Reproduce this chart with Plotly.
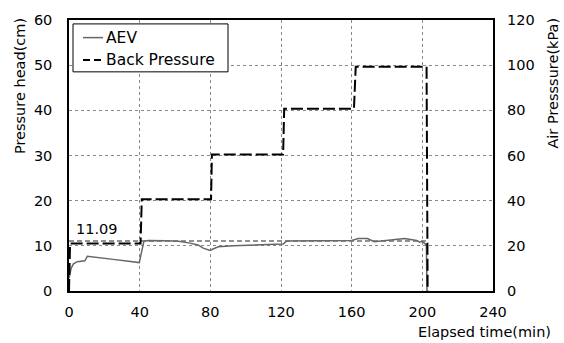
import plotly.graph_objects as go

# Elapsed time (min) and air-entry value readings (cm)
aev_time = [0, 1.2, 2.5, 4.7, 9.0, 10.4, 25, 39.8, 42.4, 45, 55, 62, 68.5, 73, 76, 79.8, 81.5, 84.5, 93,
            105, 119, 121.3, 123, 140, 160, 163.8, 168.9, 172.8, 180, 190, 196.8, 198.6, 200, 201.5, 202.3, 202.6]
aev_head = [2.8, 5.0, 6.0, 6.5, 6.7, 7.7, 7.0, 6.3, 11.05, 11.2, 11.1, 11.0, 10.6, 10.2, 9.5, 9.0, 9.3, 9.8, 10.0,
            10.2, 10.35, 10.4, 11.05, 11.1, 11.2, 11.6, 11.6, 10.9, 11.2, 11.6, 11.2, 10.8, 11.0, 10.4, 10.2, 0]

# Applied back pressure (kPa)
bp_time = [0, 0.6, 40.5, 41.2, 80.4, 80.9, 121.2, 121.8, 161.3, 162.3, 202.4, 203.0]
bp_kpa = [0, 21.0, 21.0, 40.6, 40.6, 60.4, 60.4, 80.7, 80.7, 99.3, 99.3, 0]

# Reference level for the air-entry value
aev_level = 11.09
level_span = [0, 202]

x_ticks = [0, 40, 80, 120, 160, 200, 240]
y_ticks = [0, 10, 20, 30, 40, 50, 60]
y2_ticks = [0, 20, 40, 60, 80, 100, 120]

font_main = "DejaVu Sans, Arial, sans-serif"
fs = 14.5

# Figure geometry (pixels)
W, H = 564, 343
ML, MR, MT, MB = 69, 71, 14, 52
PW, PH = W - ML - MR, H - MT - MB


def px(x):
    return (x - ML) / PW


def py(y):
    return (H - MB - y) / PH


aev_style = dict(color="#666666", width=1.5)
bp_style = dict(color="black", width=2, dash="12px,4px")

fig = go.Figure()

fig.add_trace(go.Scatter(x=aev_time, y=aev_head, mode="lines", name="AEV",
                         line=aev_style, showlegend=False))
fig.add_trace(go.Scatter(x=level_span, y=[aev_level, aev_level], mode="lines", showlegend=False,
                         line=dict(color="#6e6e6e", width=1.5, dash="5px,3px")))
fig.add_trace(go.Scatter(x=bp_time, y=bp_kpa, mode="lines", name="Back Pressure", yaxis="y2",
                         line=bp_style, showlegend=False))

fig.update_layout(
    width=W, height=H,
    margin=dict(l=ML, r=MR, t=MT, b=MB),
    paper_bgcolor="white", plot_bgcolor="white",
    font=dict(family=font_main, size=fs, color="black"),
    showlegend=False,
    xaxis=dict(
        range=[0, 240], tickvals=x_ticks,
        showgrid=True, gridcolor="#8a8a8a", griddash="dot", gridwidth=1,
        showline=True, linecolor="black", linewidth=1.5, mirror=True,
        zeroline=False, ticks="", ticklabelstandoff=7,
    ),
    yaxis=dict(
        range=[0, 60], tickvals=y_ticks,
        showgrid=True, gridcolor="#8a8a8a", griddash="dot", gridwidth=1,
        showline=True, linecolor="black", linewidth=1.5, mirror=True,
        zeroline=False, ticks="", ticklabelstandoff=12,
    ),
    yaxis2=dict(
        range=[0, 120], tickvals=y2_ticks,
        overlaying="y", side="right", showgrid=False, zeroline=False,
        showline=False, ticks="", ticklabelstandoff=13,
    ),
)

# Legend box drawn with shapes and text
fig.add_shape(type="rect", xref="paper", yref="paper",
              x0=px(73), x1=px(228), y0=py(67), y1=py(18),
              line=dict(color="black", width=1), fillcolor="white", layer="above")
legend_rows = [("AEV", aev_style, 32), ("Back Pressure", dict(color="black", width=2, dash="7px,4px"), 55)]
for label, style, yrow in legend_rows:
    fig.add_shape(type="line", xref="paper", yref="paper",
                  x0=px(83), x1=px(103), y0=py(yrow), y1=py(yrow),
                  line=style, layer="above")
    fig.add_annotation(x=px(104), y=py(yrow), xref="paper", yref="paper", text=label,
                       showarrow=False, xanchor="left", yanchor="middle",
                       font=dict(size=15.5, color="black"))

fig.add_annotation(x=15.8, y=13.7, xref="x", yref="y", text=f"{aev_level:.2f}",
                   showarrow=False, font=dict(size=fs, color="black"))

# Axis titles placed as free text
fig.add_annotation(x=px(20), y=py(10), xref="paper", yref="paper", text="Pressure head(cm)",
                   showarrow=False, textangle=-90, xanchor="center", yanchor="top",
                   font=dict(size=fs, color="black"))
fig.add_annotation(x=px(553), y=py(10), xref="paper", yref="paper", text="Air Presssure(kPa)",
                   showarrow=False, textangle=-90, xanchor="center", yanchor="top",
                   font=dict(size=fs, color="black"))
fig.add_annotation(x=px(553), y=py(333), xref="paper", yref="paper", text="Elapsed time(min)",
                   showarrow=False, xanchor="right", yanchor="middle",
                   font=dict(size=fs, color="black"))

fig.write_html("out.html")
